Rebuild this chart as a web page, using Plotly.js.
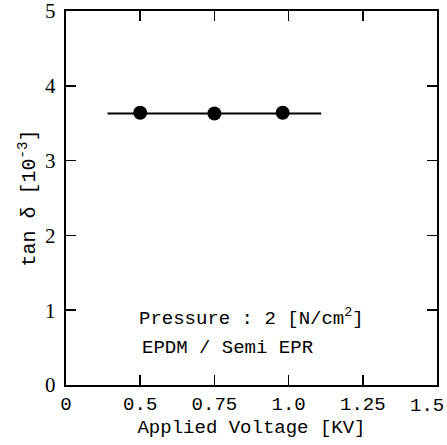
<!DOCTYPE html>
<html>
<head>
<meta charset="utf-8">
<script src="https://cdn.plot.ly/plotly-3.0.1.min.js"></script>
<style>html,body{margin:0;padding:0;background:#fff;}#chart{width:447px;height:445px;}</style>
</head>
<body>
<div id="chart"></div>
<script>
// Data
const voltage = [0.5, 0.75, 0.98];
const tanDelta = [3.64, 3.63, 3.64];
const fitX = [0.39, 1.11];
const fitY = [3.63, 3.63];
const xTickVals = [0.25, 0.5, 0.75, 1.0, 1.25, 1.5];
const xTickText = ["0", "0.5", "0.75", "1.0", "1.25", "1.5"];
const yTickVals = [0, 1, 2, 3, 4, 5];
const yTickText = ["0", "1", "2", "3", "4", "5"];

const mono = "Liberation Mono, DejaVu Sans Mono, monospace";
const serif = "Liberation Serif, DejaVu Serif, serif";

const traces = [
  {x: fitX, y: fitY, mode: "lines", line: {color: "#000", width: 2}, hoverinfo: "skip", showlegend: false},
  {x: voltage, y: tanDelta, mode: "markers", marker: {color: "#000", size: 14}, showlegend: false}
];

// the last x label sits flush against the right edge, as in the reference
const lastIdx = xTickText.length - 1;
const xLabels = xTickText.map((t, i) => i === lastIdx ? "" : t);

const layout = {
  width: 447, height: 445,
  margin: {l: 66, r: 10, t: 11, b: 60},
  paper_bgcolor: "#fff", plot_bgcolor: "#fff",
  xaxis: {
    range: [0.25, 1.5], tickvals: xTickVals, ticktext: xLabels,
    ticks: "inside", ticklen: 10, tickwidth: 1.5, tickcolor: "#000",
    showline: true, linecolor: "#000", linewidth: 2, mirror: "ticks",
    showgrid: false, zeroline: false, ticklabeloverflow: "allow",
    tickfont: {family: mono, size: 19, color: "#000"},
    title: {text: "Applied Voltage [KV]", font: {family: mono, size: 19, color: "#000"}, standoff: 5}
  },
  yaxis: {
    range: [0, 5], tickvals: yTickVals, ticktext: yTickText.map(t => t + "\u2009"),
    ticks: "inside", ticklen: 10, tickwidth: 1.5, tickcolor: "#000",
    showline: true, linecolor: "#000", linewidth: 2, mirror: "ticks",
    showgrid: false, zeroline: false, ticklabeloverflow: "allow",
    tickfont: {family: serif, size: 21, color: "#000"},
    title: {text: "tan δ [10<sup>-3</sup>]", font: {family: mono, size: 20, color: "#000"}, standoff: 4}
  },
  annotations: [
    {xref: "x", yref: "paper", x: xTickVals[lastIdx], y: 0, xanchor: "right", yanchor: "top",
     xshift: 9, yshift: -8, text: xTickText[lastIdx], showarrow: false,
     font: {family: mono, size: 19, color: "#000"}},
    {xref: "paper", yref: "paper", x: (137-66)/371, y: (385-317)/374, xanchor: "left", yanchor: "middle",
     text: "Pressure : 2 [N/cm<sup>2</sup>]", showarrow: false, font: {family: mono, size: 19, color: "#000"}},
    {xref: "paper", yref: "paper", x: (140-66)/371, y: (385-348)/374, xanchor: "left", yanchor: "middle",
     text: "EPDM / Semi EPR", showarrow: false, font: {family: mono, size: 19, color: "#000"}}
  ]
};

Plotly.newPlot("chart", traces, layout, {displayModeBar: false, staticPlot: true});
</script>
</body>
</html>
